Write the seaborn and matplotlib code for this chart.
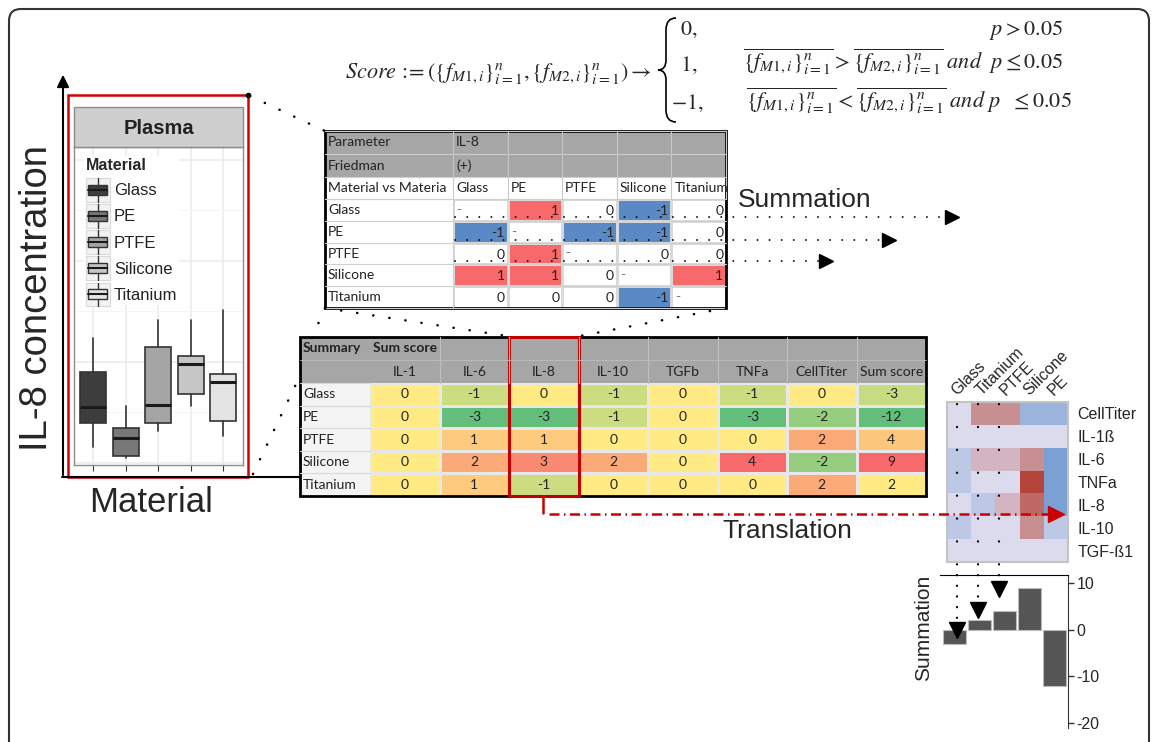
import numpy as np
import pandas as pd
import matplotlib.pyplot as plt
import seaborn as sns
from matplotlib.colors import ListedColormap, LinearSegmentedColormap, TwoSlopeNorm
from matplotlib.patches import Rectangle, FancyBboxPatch, PathPatch
from matplotlib.path import Path
from matplotlib.lines import Line2D
from matplotlib.legend_handler import HandlerBase

# ---- data ----
materials = ["Glass", "PE", "PTFE", "Silicone", "Titanium"]
box_colors = ["#3d3d3d", "#787878", "#a5a5a5", "#c6c6c6", "#e4e4e4"]

# IL-8 concentration, box statistics per material (arbitrary units)
il8_whislo = [4.0, 1.2, 7.9, 14.1, 6.7]
il8_q1 = [9.9, 1.7, 9.9, 17.1, 10.4]
il8_med = [13.9, 6.2, 14.4, 24.5, 20.0]
il8_q3 = [22.5, 8.7, 28.7, 26.5, 22.0]
il8_whishi = [30.9, 14.1, 35.4, 35.4, 37.9]

# pairwise IL-8 scores, row material vs column material (nan = diagonal)
nan = np.nan
pair_glass = [nan, 1, 0, -1, 0]
pair_pe = [-1, nan, -1, -1, 0]
pair_ptfe = [0, 1, nan, 0, 0]
pair_silicone = [1, 1, 0, nan, 1]
pair_titanium = [0, 0, 0, -1, nan]

# summary of sum scores per parameter
params = ["IL-1", "IL-6", "IL-8", "IL-10", "TGFb", "TNFa", "CellTiter"]
score_il1 = [0, 0, 0, 0, 0]
score_il6 = [-1, -3, 1, 2, 1]
score_il8 = [0, -3, 1, 3, -1]
score_il10 = [-1, -1, 0, 2, 0]
score_tgfb = [0, 0, 0, 0, 0]
score_tnfa = [-1, -3, 0, 4, 0]
score_celltiter = [0, -2, 2, -2, 2]
sum_score = [-3, -12, 4, 9, 2]

heat_params = ["CellTiter", "IL-1", "IL-6", "TNFa", "IL-8", "IL-10", "TGFb"]
heat_labels = ["CellTiter", "IL-1ß", "IL-6", "TNFa", "IL-8", "IL-10", "TGF-ß1"]
heat_order = ["Glass", "Titanium", "PTFE", "Silicone", "PE"]

# ---- setup ----
sns.set_style("white")
plt.rcParams["font.family"] = ["Liberation Sans", "DejaVu Sans"]
plt.rcParams["mathtext.fontset"] = "stix"
TF = "Lato"  # table font (Calibri-like)

W, H = 1152, 742
fig = plt.figure(figsize=(W / 100, H / 100), dpi=100)


def px_axes(x0, y0, x1, y1):
    return fig.add_axes([x0 / W, 1 - y1 / H, (x1 - x0) / W, (y1 - y0) / H])


ov = px_axes(0, 0, W, H)
ov.set_xlim(0, W)
ov.set_ylim(H, 0)
ov.axis("off")
ov.set_zorder(10)
ov.patch.set_alpha(0)


def dots(x, y, lw=1.8, gap=6.4, color="black"):
    ov.plot(x, y, color=color, lw=lw, ls=(0, (0.1, gap)), dash_capstyle="round")


# outer frame
ov.add_patch(FancyBboxPatch((9, 9), 1140, 780, boxstyle="round,pad=0,rounding_size=12",
                            fc="none", ec="#333333", lw=1.5))

# ---- formula ----
FS = 16
ov.text(345, 73, r"$Score\,:\!\!=\left(\{f_{M1,i}\}_{i=1}^{n},\{f_{M2,i}\}_{i=1}^{n}\right)\rightarrow$",
        fontsize=FS, va="center", ha="left")
brace = Path([(676, 18), (666, 18), (666, 30), (666, 60), (666, 70), (658, 70), (666, 70),
              (666, 80), (666, 110), (666, 122), (676, 122)],
             [Path.MOVETO, Path.CURVE3, Path.CURVE3, Path.LINETO, Path.CURVE3, Path.CURVE3,
              Path.CURVE3, Path.CURVE3, Path.LINETO, Path.CURVE3, Path.CURVE3])
ov.add_patch(PathPatch(brace, fc="none", ec="black", lw=1.2))
ov.text(680, 30, r"$0,$", fontsize=FS, va="center")
ov.text(680, 65, r"$1,$", fontsize=FS, va="center")
ov.text(671, 103, r"$-1,$", fontsize=FS, va="center")
ov.text(1063, 30, r"$p > 0.05$", fontsize=FS, va="center", ha="right")
ov.text(1063, 62, r"$\overline{\{f_{M1,i}\}_{i=1}^{n}} > \overline{\{f_{M2,i}\}_{i=1}^{n}}\ and\ \ p \leq 0.05$",
        fontsize=FS, va="center", ha="right")
ov.text(1072, 101, r"$\overline{\{f_{M1,i}\}_{i=1}^{n}} < \overline{\{f_{M2,i}\}_{i=1}^{n}}\ and\ p\ \ \leq 0.05$",
        fontsize=FS, va="center", ha="right")

# ---- box plot panel ----
ax_box = px_axes(74, 147, 243, 465)
stats = [dict(whislo=a, q1=b, med=c, q3=d, whishi=e, label=m)
         for a, b, c, d, e, m in zip(il8_whislo, il8_q1, il8_med, il8_q3, il8_whishi, materials)]
bp = ax_box.bxp(stats, positions=range(len(materials)), widths=0.8, patch_artist=True,
                showfliers=False, showcaps=False,
                boxprops=dict(edgecolor="#333333", lw=1.2),
                whiskerprops=dict(color="#333333", lw=1.2),
                medianprops=dict(color="#1a1a1a", lw=2.2))
for patch, c in zip(bp["boxes"], box_colors):
    patch.set_facecolor(c)
ax_box.set_xlim(-0.585, 4.615)
ax_box.set_ylim(-0.5, 78.2)
ax_box.set_yticks([0, 25, 50, 75])
ax_box.set_yticks([12.5, 37.5, 62.5], minor=True)
ax_box.grid(True, which="major", color="#ebebeb", lw=1.1)
ax_box.grid(True, which="minor", axis="y", color="#f3f3f3", lw=0.6)
ax_box.set_axisbelow(True)
ax_box.tick_params(axis="x", length=4, color="#333333", labelbottom=False, bottom=True)
ax_box.tick_params(axis="y", length=0, labelleft=False)
ax_box.set_xlabel("")
for s in ax_box.spines.values():
    s.set_color("#8c8c8c")
    s.set_linewidth(1)


class BoxKey(HandlerBase):
    def create_artists(self, legend, orig, xd, yd, w, h, fs, trans):
        x0, y0 = -xd, -yd
        bg = Rectangle((x0, y0 - 2), w, h + 4, fc="#f2f2f2", ec="#d9d9d9", lw=0.8, transform=trans)
        wh = Line2D([x0 + w / 2] * 2, [y0 - 2, y0 + h + 2], color="#333333", lw=1, transform=trans)
        bx = Rectangle((x0 + 2, y0 + 3), w - 4, h - 6, fc=orig.get_facecolor(), ec="#333333", lw=1,
                       transform=trans)
        md = Line2D([x0 + 2, x0 + w - 2], [y0 + h / 2] * 2, color="#1a1a1a", lw=1.5, transform=trans)
        return [bg, wh, bx, md]


handles = [Rectangle((0, 0), 1, 1, fc=c) for c in box_colors]
ax_box.legend(handles, materials, title="Material", loc="upper left",
              bbox_to_anchor=(84 / W, 1 - 156 / H), bbox_transform=fig.transFigure,
              handler_map={Rectangle: BoxKey()}, frameon=True, facecolor="white",
              edgecolor="none", framealpha=1, fontsize=12, labelcolor="#222222",
              title_fontproperties={"weight": "bold", "size": 11.5},
              handlelength=1.45, handleheight=1.3, labelspacing=0.48, handletextpad=0.25,
              borderpad=0.1, borderaxespad=0, alignment="left")

ov.add_patch(Rectangle((74, 107), 169, 40, fc="#cfcfcf", ec="#8c8c8c", lw=1))
ov.text(158.5, 128, "Plasma", fontsize=14.5, fontweight="bold", color="#222222",
        ha="center", va="center")
ov.add_patch(Rectangle((68, 95), 180, 382, fc="none", ec="#d40000", lw=1.8))
ov.plot([248], [95], "o", color="black", ms=3)

ov.annotate("", xy=(63, 72), xytext=(63, 478),
            arrowprops=dict(arrowstyle="-|>", lw=1.5, color="black", mutation_scale=18))
ov.plot([62, 300], [477, 477], color="black", lw=1.5)
ov.text(37, 298, "IL-8 concentration", fontsize=27.5, rotation=90, ha="center", va="center")
ov.text(151, 502, "Material", fontsize=25, ha="center", va="center")

# ---- pairwise table ----
pair_df = pd.DataFrame([pair_glass, pair_pe, pair_ptfe, pair_silicone, pair_titanium],
                       index=materials, columns=materials)
pair_x = np.linspace(453, 726, len(materials) + 1)
pair_rows = [131, 154, 177, 199]
ax_pair = px_axes(453, 199, 726, 308)
sns.heatmap(pair_df, ax=ax_pair, cmap=ListedColormap(["#5a8ac6", "#ffffff", "#f8696b"]),
            vmin=-1.5, vmax=1.5, cbar=False, linewidths=0.8, linecolor="#d9d9d9",
            xticklabels=False, yticklabels=False)
ax_pair.set_facecolor("white")
for i in range(pair_df.shape[0]):
    for j in range(pair_df.shape[1]):
        v = pair_df.iloc[i, j]
        if np.isnan(v):
            ax_pair.text(j + 0.06, i + 0.5, "-", ha="left", va="center", fontsize=10,
                         color="#777777", family=TF)
        else:
            ax_pair.text(j + 0.95, i + 0.55, f"{int(v)}", ha="right", va="center", fontsize=10,
                         color="#222222", family=TF)
ax_pair.set_xlabel("")
ax_pair.set_ylabel("")

ov.add_patch(Rectangle((325, 131), 401, 46, fc="#a6a6a6", ec="none"))
for y in pair_rows + list(np.linspace(199, 308, 6)):
    ov.plot([325, 726], [y, y], color="#d0d0d0", lw=0.8)
for x in pair_x:
    ov.plot([x, x], [131, 199], color="#c8c8c8", lw=0.8)
ov.plot([453, 453], [199, 308], color="#d0d0d0", lw=0.8)
ov.add_patch(Rectangle((325, 131), 401, 177, fc="none", ec="black", lw=2))
ov.text(328, 142.5, "Parameter", fontsize=10, va="center", family=TF, color="#222222")
ov.text(456, 142.5, "IL-8", fontsize=10, va="center", family=TF, color="#222222")
ov.text(328, 165.5, "Friedman", fontsize=10, va="center", family=TF, color="#222222")
ov.text(456, 165.5, "(+)", fontsize=10, va="center", family=TF, color="#222222")
ov.text(328, 188, "Material vs Materia", fontsize=10, va="center", family=TF, color="#222222")
for x, m in zip(pair_x[:-1], materials):
    ov.text(x + 3, 188, m, fontsize=10, va="center", family=TF, color="#222222")
for k, m in enumerate(materials):
    ov.text(328, 199 + 21.8 * (k + 0.5), m, fontsize=10, va="center", family=TF, color="#222222")

# summation arrows
for y, tip in zip([217, 240, 261], [958, 895, 832]):
    dots([455, tip - 12], [y, y], lw=1.3, gap=6.6)
    ov.plot([tip - 6], [y], ">", color="black", ms=10)
ov.text(738, 200, "Summation", fontsize=19, va="center")

# ---- summary table ----
sum_df = pd.DataFrame({"IL-1": score_il1, "IL-6": score_il6, "IL-8": score_il8,
                       "IL-10": score_il10, "TGFb": score_tgfb, "TNFa": score_tnfa,
                       "CellTiter": score_celltiter, "Sum score": sum_score}, index=materials)
excel = LinearSegmentedColormap.from_list("excel", ["#63be7b", "#ffeb84", "#f8696b"])
sum_x = np.linspace(370, 926, len(params) + 2)
ax_sum = px_axes(sum_x[0], 383, sum_x[-2], 496)
sns.heatmap(sum_df[params], ax=ax_sum, cmap=excel, norm=TwoSlopeNorm(vmin=-3, vcenter=0, vmax=4),
            annot=True, fmt="d", annot_kws={"fontsize": 10, "color": "#222222", "family": TF},
            cbar=False, linewidths=0.8, linecolor="#e8e8e8", xticklabels=False, yticklabels=False)
ax_tot = px_axes(sum_x[-2], 383, sum_x[-1], 496)
sns.heatmap(sum_df[["Sum score"]], ax=ax_tot, cmap=excel,
            norm=TwoSlopeNorm(vmin=-12, vcenter=2, vmax=9),
            annot=True, fmt="d", annot_kws={"fontsize": 10, "color": "#222222", "family": TF},
            cbar=False, linewidths=0.8, linecolor="#e8e8e8", xticklabels=False, yticklabels=False)
for a in (ax_sum, ax_tot):
    a.set_xlabel("")
    a.set_ylabel("")

ov.add_patch(Rectangle((300, 337), 626, 46, fc="#a6a6a6", ec="none"))
ov.add_patch(Rectangle((300, 383), 70, 113, fc="#f4f4f4", ec="none"))
for x in sum_x[1:-1]:
    ov.plot([x, x], [337, 383], color="#bfbfbf", lw=0.8)
ov.plot([300, 926], [360, 360], color="#bfbfbf", lw=0.6)
for y in np.linspace(383, 496, 6)[:-1]:
    ov.plot([300, 370], [y, y], color="#d9d9d9", lw=0.8)
ov.text(303, 348.5, "Summary", fontsize=10, fontweight="bold", va="center", family=TF,
        color="#222222")
ov.text(373, 348.5, "Sum score", fontsize=10, fontweight="bold", va="center", family=TF,
        color="#222222")
for k, name in enumerate(params + ["Sum score"]):
    ov.text((sum_x[k] + sum_x[k + 1]) / 2, 371.5, name, fontsize=10, ha="center", va="center",
            family=TF, color="#222222")
for k, m in enumerate(materials):
    ov.text(303, 383 + 22.6 * (k + 0.5), m, fontsize=10, va="center", family=TF, color="#222222")
ov.add_patch(Rectangle((300, 337), 626, 159, fc="none", ec="black", lw=2))
il8_col = params.index("IL-8")
ov.add_patch(Rectangle((sum_x[il8_col], 337), sum_x[il8_col + 1] - sum_x[il8_col], 159,
                       fc="none", ec="#c00000", lw=2.2))

# connectors
dots([250, 325], [96, 131])
dots([325, 507], [308, 336])
dots([726, 580], [308, 336])
dots([325, 312], [308, 338])
dots([253, 298], [474, 380])

# translation arrow
ov.plot([543, 543], [496, 513], color="#cc0000", lw=1.8)
ov.plot([549, 1052], [514, 514], color="#cc0000", lw=1.8, ls=(0, (4, 1.8, 0.6, 1.8)))
ov.plot([1056], [514], ">", color="#cc0000", ms=12)
ov.text(787, 531, "Translation", fontsize=19, ha="center", va="center")

# ---- heatmap (materials x parameters) ----
heat_df = sum_df.loc[heat_order, heat_params].T
heat_df.index = heat_labels
div = LinearSegmentedColormap.from_list("div", ["#5b8ccb", "#dcdcee", "#b4443a"])
ax_heat = px_axes(947, 402, 1068, 562)
sns.heatmap(heat_df, ax=ax_heat, cmap=div, vmin=-4, vmax=4, cbar=False,
            xticklabels=True, yticklabels=True)
ax_heat.xaxis.tick_top()
ax_heat.set_xticklabels(heat_df.columns, rotation=45, ha="left", va="bottom",
                        rotation_mode="anchor", fontsize=11.5)
ax_heat.yaxis.tick_right()
ax_heat.set_yticklabels(heat_df.index, rotation=0, fontsize=11.5)
ax_heat.tick_params(length=0, pad=3)
ax_heat.tick_params(axis="y", pad=7)
ax_heat.set_xlabel("")
ax_heat.set_ylabel("")
for s in ax_heat.spines.values():
    s.set_visible(True)
    s.set_color("#c4c4c4")
    s.set_linewidth(1.5)

# ---- summation bars ----
bar_df = pd.DataFrame({"material": heat_order, "sum": sum_df.loc[heat_order, "Sum score"].values})
ax_bar = px_axes(940, 575, 1068, 728)
sns.barplot(data=bar_df, x="material", y="sum", order=heat_order, color="#555555",
            saturation=1, edgecolor="#bbbbbb", linewidth=0.8, width=0.93, ax=ax_bar)
ax_bar.set_xlim(-0.6, 4.56)
ax_bar.set_ylim(-21.1, 11.7)
ax_bar.set_yticks([10, 0, -10, -20])
ax_bar.set_yticklabels(["10", "0", "-10", "-20"], fontsize=11.5)
ax_bar.yaxis.tick_right()
ax_bar.tick_params(axis="y", direction="out", length=4, width=1, color="#333333", pad=2)
ax_bar.set_xticks([])
ax_bar.set_xlabel("")
ax_bar.set_ylabel("")
ax_bar.patch.set_alpha(0)
for side in ("left", "bottom"):
    ax_bar.spines[side].set_visible(False)
ax_bar.spines["top"].set_color("black")
ax_bar.spines["right"].set_color("#333333")
ov.text(924, 628, "Summation", fontsize=15, rotation=90, ha="center", va="center")

# dotted guides from heatmap to bars
for x, ytri in zip([957, 978, 999], [630, 610, 589]):
    dots([x, x], [404, 575], lw=1.6, gap=10.2)
    dots([x, x], [575, ytri - 6], lw=1.6, gap=4.7)
    ov.plot([x], [ytri], "v", color="black", ms=11)

fig.savefig("out.png", dpi=100)
